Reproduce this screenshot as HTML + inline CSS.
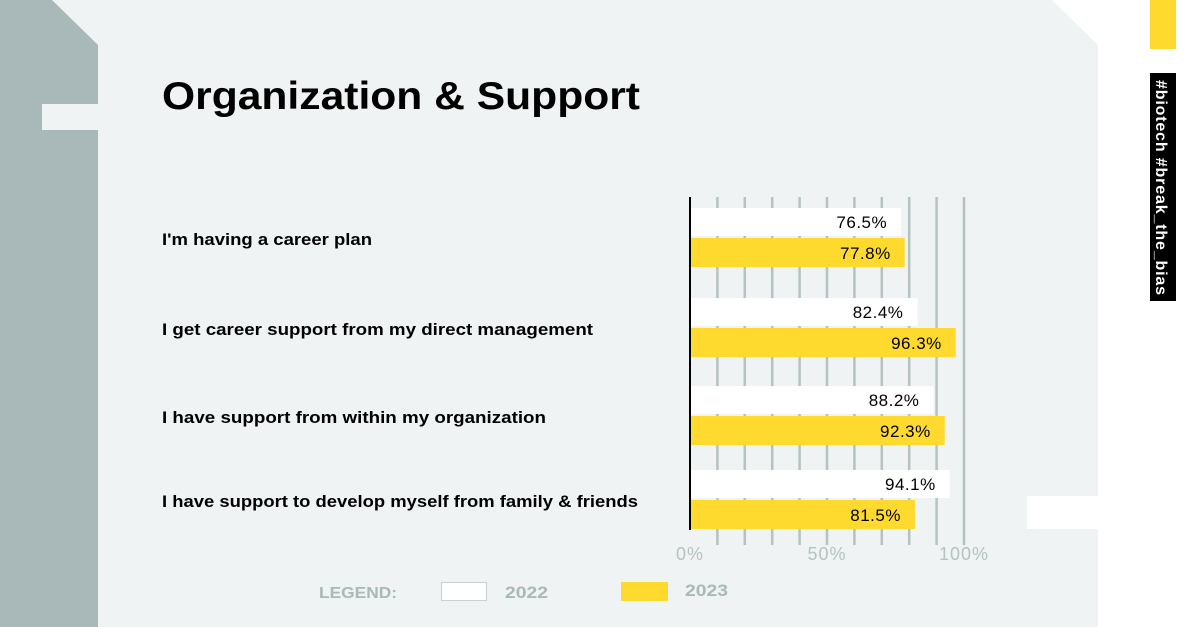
<!DOCTYPE html>
<html><head><meta charset="utf-8"><style>
html,body{margin:0;padding:0;width:1200px;height:627px;overflow:hidden;background:#fff}
svg{display:block;font-family:"Liberation Sans",sans-serif}
</style></head><body>
<svg id="c" width="1200" height="627" viewBox="0 0 1200 627" xmlns="http://www.w3.org/2000/svg">
<polygon points="0,0 1052,0 1098,45 1098,627 0,627" fill="#eff3f4"/>
<polygon points="0,0 52,0 98,45 98,627 0,627" fill="#a9b8b8"/>
<rect x="42" y="104" width="56" height="26" fill="#eff3f4"/>
<rect x="1027" y="496" width="71" height="33" fill="#fff"/>
<rect x="1150" y="0" width="26" height="49" fill="#ffda2e"/>
<rect x="1150" y="73" width="26" height="228" fill="#000"/>
<text transform="translate(1156,80) rotate(90)" fill="#fff" font-size="16" font-weight="bold" textLength="215" lengthAdjust="spacing">#biotech #break_the_bias</text>
<text x="162" y="109" font-size="39" font-weight="bold" fill="#000" textLength="478" lengthAdjust="spacingAndGlyphs">Organization &amp; Support</text>
<g id="grid"></g><g id="bars"></g>
<text x="319" y="598" font-size="16" font-weight="bold" fill="#a9b8b8" textLength="78" lengthAdjust="spacingAndGlyphs">LEGEND:</text>
<rect x="441.5" y="582.5" width="45" height="18" fill="#fff" stroke="#c8d2d2"/>
<text x="505" y="598" font-size="17" font-weight="bold" fill="#a9b8b8" textLength="43" lengthAdjust="spacingAndGlyphs">2022</text>
<rect x="621" y="582" width="47" height="19" fill="#ffda2e"/>
<text x="685" y="596" font-size="17" font-weight="bold" fill="#a9b8b8" textLength="43" lengthAdjust="spacingAndGlyphs">2023</text>
</svg>
<script>
const categories=["I'm having a career plan","I get career support from my direct management","I have support from within my organization","I have support to develop myself from family & friends"];
const values2022=[76.5,82.4,88.2,94.1];
const values2023=[77.8,96.3,92.3,81.5];
const tickValues=[0,50,100];
const tickLabels=["0%","50%","100%"];
const NS="http://www.w3.org/2000/svg";
const x0=690,x1=966;
function xs(v){return x0+(x1-x0)*v/100;}
const rowTop=[208,298,386,470];
function mk(t,a,p){const e=document.createElementNS(NS,t);for(const k in a)e.setAttribute(k,a[k]);p.appendChild(e);return e;}
const grid=document.getElementById('grid'),bars=document.getElementById('bars');
for(let g=10;g<=100;g+=10){
 const gx=690+27.4*g/10;
 const l=mk('line',{x1:gx,x2:gx,y1:197,y2:545,stroke:'#b4c2c2','stroke-width':2.5},grid);
 
 
}
tickValues.forEach((v,i)=>{
 const t=mk('text',{x:690+2.74*v,y:560,'font-size':18,fill:'#b4c2c2','text-anchor':'middle','letter-spacing':1},grid);
 t.textContent=tickLabels[i];
 
 
});
const labelLens=[210,431,384,476];
categories.forEach((c,i)=>{
 const y=rowTop[i];
 const lab=mk('text',{x:162,y:y+37,'font-size':16.5,'font-weight':'bold',fill:'#000',textLength:labelLens[i],lengthAdjust:'spacingAndGlyphs'},bars);
 lab.textContent=c;
 
 
 const b1=mk('rect',{x:x0,y:y,width:xs(values2022[i])-x0,height:28,fill:'#fff'},bars);
 
 
 const t1=mk('text',{x:xs(values2022[i])-14,y:y+20,'font-size':17,fill:'#000','text-anchor':'end','letter-spacing':0.5},bars);
 t1.textContent=values2022[i].toFixed(1)+'%';
 
 
 const b2=mk('rect',{x:x0,y:y+30,width:xs(values2023[i])-x0,height:29,fill:'#ffda2e'},bars);
 
 
 const t2=mk('text',{x:xs(values2023[i])-14,y:y+51,'font-size':17,fill:'#000','text-anchor':'end','letter-spacing':0.5},bars);
 t2.textContent=values2023[i].toFixed(1)+'%';
 
 
});
const ax=mk('line',{x1:x0,x2:x0,y1:197,y2:530,stroke:'#000','stroke-width':2},bars);


</script>
</body></html>
